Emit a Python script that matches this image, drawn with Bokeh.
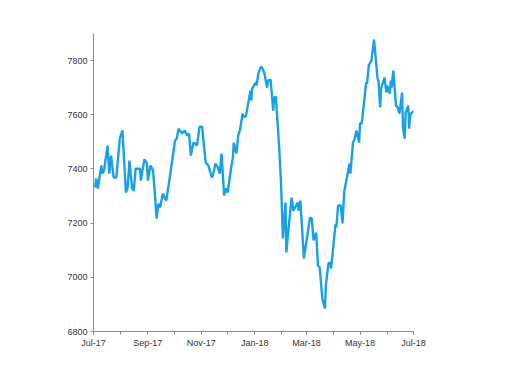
from datetime import datetime
from bokeh.plotting import figure
from bokeh.models import FixedTicker, DatetimeTickFormatter, Range1d
from bokeh.embed import file_html
from bokeh.resources import INLINE

dates = [
    "2017-07-03", "2017-07-04", "2017-07-06", "2017-07-10", "2017-07-11", "2017-07-13",
    "2017-07-17", "2017-07-19", "2017-07-21", "2017-07-24", "2017-07-27", "2017-07-31",
    "2017-08-03", "2017-08-07", "2017-08-09", "2017-08-11", "2017-08-14", "2017-08-16",
    "2017-08-18", "2017-08-23", "2017-08-24", "2017-08-28", "2017-08-31", "2017-09-01",
    "2017-09-04", "2017-09-07", "2017-09-11", "2017-09-13", "2017-09-15", "2017-09-18",
    "2017-09-22", "2017-09-26", "2017-10-02", "2017-10-04", "2017-10-06", "2017-10-10",
    "2017-10-13", "2017-10-16", "2017-10-18", "2017-10-20", "2017-10-23", "2017-10-25",
    "2017-10-27", "2017-10-30", "2017-11-02", "2017-11-03", "2017-11-06", "2017-11-09",
    "2017-11-13", "2017-11-15", "2017-11-17", "2017-11-20", "2017-11-22", "2017-11-24",
    "2017-11-27", "2017-11-29", "2017-12-01", "2017-12-05", "2017-12-07", "2017-12-08",
    "2017-12-11", "2017-12-13", "2017-12-15", "2017-12-18", "2017-12-20", "2017-12-22",
    "2017-12-27", "2017-12-28", "2017-12-29", "2018-01-02", "2018-01-03", "2018-01-05",
    "2018-01-08", "2018-01-10", "2018-01-12", "2018-01-15", "2018-01-16", "2018-01-19",
    "2018-01-22", "2018-01-23", "2018-01-25", "2018-01-29", "2018-01-31", "2018-02-02",
    "2018-02-05", "2018-02-06", "2018-02-08", "2018-02-12", "2018-02-14", "2018-02-19",
    "2018-02-20", "2018-02-22", "2018-02-26", "2018-03-01", "2018-03-05", "2018-03-07",
    "2018-03-09", "2018-03-12", "2018-03-14", "2018-03-16", "2018-03-19", "2018-03-21",
    "2018-03-22", "2018-03-23", "2018-03-26", "2018-03-28", "2018-03-29", "2018-04-03",
    "2018-04-04", "2018-04-06", "2018-04-09", "2018-04-11", "2018-04-13", "2018-04-16",
    "2018-04-19", "2018-04-20", "2018-04-23", "2018-04-25", "2018-04-27", "2018-04-30",
    "2018-05-01", "2018-05-03", "2018-05-08", "2018-05-09", "2018-05-11", "2018-05-14",
    "2018-05-17", "2018-05-21", "2018-05-22", "2018-05-24", "2018-05-25", "2018-05-29",
    "2018-05-31", "2018-06-01", "2018-06-04", "2018-06-05", "2018-06-06", "2018-06-08",
    "2018-06-11", "2018-06-13", "2018-06-15", "2018-06-18", "2018-06-19", "2018-06-21",
    "2018-06-22", "2018-06-25", "2018-06-26", "2018-06-27", "2018-06-28", "2018-07-02",
]

values = [
    7331, 7365, 7328, 7413, 7383, 7394,
    7486, 7383, 7449, 7368, 7368, 7512,
    7542, 7313, 7331, 7431, 7328, 7320,
    7401, 7401, 7357, 7435, 7420, 7357,
    7413, 7394, 7217, 7272, 7258, 7309,
    7283, 7368, 7505, 7512, 7549, 7531,
    7542, 7523, 7531, 7449, 7497, 7494,
    7486, 7556, 7556, 7516, 7424, 7413,
    7368, 7387, 7420, 7405, 7383, 7457,
    7302, 7328, 7313, 7405, 7442, 7497,
    7457, 7523, 7542, 7604, 7590, 7597,
    7689, 7652, 7697, 7719, 7708, 7752,
    7778, 7770, 7752, 7700, 7726, 7730,
    7615, 7663, 7667, 7468, 7339, 7143,
    7276, 7092, 7165, 7294, 7246, 7276,
    7246, 7283, 7069, 7136, 7221, 7217,
    7136, 7165, 7044, 7036, 6922, 6896,
    6885, 6970, 7051, 7055, 7032, 7195,
    7184, 7265, 7265, 7199, 7317, 7368,
    7420, 7383, 7497, 7512, 7542, 7497,
    7568, 7568, 7719, 7715, 7782, 7800,
    7877, 7734, 7726, 7627, 7697, 7737,
    7682, 7708, 7678, 7726, 7700, 7763,
    7634, 7627, 7604, 7682, 7553, 7512,
    7608, 7634, 7549, 7590, 7604, 7615,
]

y_ticks = [6800, 7000, 7200, 7400, 7600, 7800]
label_months = ["2017-07-01", "2017-09-01", "2017-11-01", "2018-01-01",
                "2018-03-01", "2018-05-01", "2018-07-01"]
all_months = ["2017-07-01", "2017-08-01", "2017-09-01", "2017-10-01", "2017-11-01",
              "2017-12-01", "2018-01-01", "2018-02-01", "2018-03-01", "2018-04-01",
              "2018-05-01", "2018-06-01", "2018-07-01"]


def to_ms(s):
    return (datetime.strptime(s, "%Y-%m-%d") - datetime(1970, 1, 1)).total_seconds() * 1000


x = [datetime.strptime(d, "%Y-%m-%d") for d in dates]

p = figure(width=504, height=376, x_axis_type="datetime",
           output_backend="svg", toolbar_location=None,
           x_range=Range1d(to_ms(all_months[0]), to_ms(all_months[-1])),
           y_range=Range1d(6800, 7900))
p.min_border_left = 93
p.min_border_top = 33
p.min_border_right = 91
p.min_border_bottom = 45
p.outline_line_color = None
p.grid.visible = False
p.background_fill_color = "white"
p.border_fill_color = "white"

p.line(x, values, line_color="#1aa0e6", line_width=2.4)

p.xaxis.ticker = FixedTicker(ticks=[to_ms(m) for m in label_months],
                             minor_ticks=[to_ms(m) for m in all_months])
p.xaxis.formatter = DatetimeTickFormatter(months="%b-%y", days="%b-%y", years="%b-%y")
p.yaxis.ticker = FixedTicker(ticks=y_ticks, minor_ticks=[])

for ax in (p.xaxis[0], p.yaxis[0]):
    ax.axis_line_color = "#8c8c8c"
    ax.axis_line_width = 1
    ax.major_tick_line_color = "#8c8c8c"
    ax.minor_tick_line_color = "#8c8c8c"
    ax.major_tick_in = 0
    ax.major_tick_out = 3
    ax.minor_tick_in = 0
    ax.minor_tick_out = 3
    ax.major_label_text_font = "Liberation Sans"
    ax.major_label_text_font_size = "9px"
    ax.major_label_text_color = "#333333"
    ax.major_label_standoff = 3

open("out.html", "w").write(file_html(p, INLINE))
